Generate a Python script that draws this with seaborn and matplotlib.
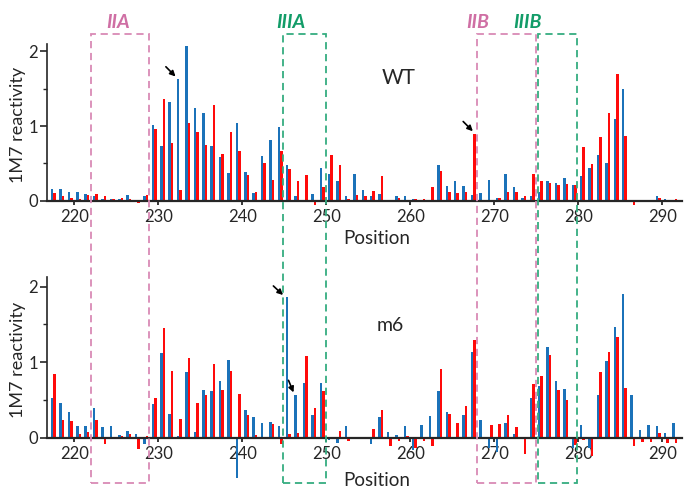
import numpy as np
import pandas as pd
import matplotlib
matplotlib.use("Agg")
import matplotlib.pyplot as plt
import seaborn as sns
from matplotlib.patches import Rectangle
from matplotlib.transforms import blended_transform_factory

# nucleotide positions shown on the x axis
positions = list(range(217, 292))

# 1M7 reactivity, blue and red replicate for each construct
wt_blue = [0.16, 0.16, 0.12, 0.12, 0.09, 0.07, 0.03, 0.02, 0.02, 0.08,
           -0.01, 0.06, 1.01, 0.73, 1.32, 1.63, 2.07, 1.24, 1.18, 0.73,
           0.59, 0.37, 1.04, 0.39, 0.10, 0.60, 0.81, 0.99, 0.48, 0.06,
           0.00, 0.09, 0.44, 0.36, 0.27, 0.07, 0.36, 0.14, 0.06, 0.09,
           -0.02, 0.06, 0.07, 0.02, 0.01, 0.01, 0.48, 0.20, 0.27, 0.20,
           0.08, 0.10, 0.28, 0.04, 0.36, 0.19, 0.04, 0.06, 0.12, 0.26,
           0.24, 0.31, 0.21, 0.33, 0.44, 0.62, 0.50, 1.09, 1.49, 0.01,
           -0.02, 0.00, 0.06, 0.03, 0.01]
wt_red = [0.10, 0.06, 0.04, 0.03, 0.08, 0.09, 0.07, 0.03, 0.04, 0.03,
          -0.03, 0.08, 0.96, 1.36, 0.78, 0.15, 1.04, 0.92, 0.75, 1.28,
          0.63, 0.92, 0.67, 0.34, 0.12, 0.51, 0.28, 0.67, 0.43, 0.27,
          0.34, -0.05, 0.18, 0.61, 0.48, 0.02, 0.08, 0.06, 0.13, 0.33,
          0.01, 0.04, 0.00, 0.02, 0.03, 0.18, 0.40, 0.12, 0.10, 0.12,
          0.90, 0.00, 0.00, 0.04, 0.12, 0.12, 0.06, 0.36, 0.26, 0.24,
          0.21, 0.22, 0.21, 0.72, 0.49, 0.86, 1.18, 1.69, 0.87, -0.06,
          0.00, -0.01, 0.04, -0.02, 0.02]
m6_blue = [0.52, 0.46, 0.34, 0.15, 0.15, 0.39, 0.14, 0.15, 0.03, 0.09,
           0.05, -0.09, 0.45, 1.12, 0.32, 0.02, 0.87, 0.07, 0.63, 0.62,
           0.75, 1.03, -0.53, 0.37, 0.27, 0.19, 0.21, 0.15, 1.86, 0.57,
           0.72, 0.30, 0.72, -0.03, -0.07, 0.16, -0.01, 0.00, -0.08, 0.28,
           0.08, 0.04, 0.15, -0.16, 0.17, 0.29, 0.62, 0.34, 0.01, 0.30,
           1.13, 0.24, -0.13, -0.19, 0.20, 0.05, 0.00, 0.53, 0.68, 1.20,
           0.75, 0.64, -0.14, 0.17, -0.14, 0.56, 1.01, 1.46, 1.90, 0.57,
           0.10, 0.17, 0.15, 0.06, 0.19]
m6_red = [0.84, 0.24, 0.22, 0.05, 0.08, 0.24, -0.08, 0.01, 0.02, 0.05,
          -0.15, 0.02, 0.53, 1.45, 0.88, 0.25, 1.06, 0.46, 0.57, 0.98,
          0.63, 0.88, 0.58, 0.30, 0.04, 0.00, 0.18, -0.08, 0.05, 0.06,
          1.08, 0.40, 0.62, -0.02, 0.09, -0.04, -0.01, 0.00, 0.12, 0.37,
          -0.11, -0.05, 0.02, -0.14, -0.05, -0.11, 0.91, 0.31, 0.20, 0.42,
          1.29, 0.01, 0.17, 0.18, 0.30, 0.14, -0.21, 0.71, 0.82, 1.10,
          0.63, 0.50, -0.10, -0.03, -0.24, 0.87, 1.14, 1.33, 0.66, -0.11,
          -0.06, -0.06, 0.06, -0.07, -0.07]

x_ticks = [220, 230, 240, 250, 260, 270, 280, 290]

# boxed structural elements (start, end in position units)
regions = ["IIA", "IIIA", "IIB", "IIIB"]
region_start = [221.95, 244.9, 267.9, 275.2]
region_end = [228.9, 250.0, 275.0, 279.9]
region_kind = ["II", "III", "II", "III"]

BLUE = "#1b72b9"
RED = "#ff0a0a"
BOX_COL = {"II": "#d98ab5", "III": "#35ad80"}
TXT_COL = {"II": "#cf6fa4", "III": "#129c68"}

sns.set_style("ticks")
plt.rcParams["font.family"] = ["Lato", "DejaVu Sans"]

def make_frame(blue, red):
    return pd.DataFrame({
        "x": np.concatenate([positions, positions]) + 0.5,
        "val": np.concatenate([blue, red]),
        "rep": ["blue"] * len(blue) + ["red"] * len(red),
    })

fig = plt.figure(figsize=(6.84, 4.90), dpi=100)
ax_wt = fig.add_axes([0.0694, 0.5745, 0.927, 0.3367])
ax_m6 = fig.add_axes([0.0694, 0.0220, 0.927, 0.4129])

panels = [
    (ax_wt, make_frame(wt_blue, wt_red), "WT", (258.6, 1.64), (-0.1, 2.1), 0.506),
    (ax_m6, make_frame(m6_blue, m6_red), "m6", (257.6, 1.49), (-0.55, 2.13), 0.589),
]

for ax, df, name, name_xy, ylim, ylab_y in panels:
    ax.set_facecolor("none")
    sns.barplot(data=df, x="x", y="val", hue="rep", native_scale=True,
                palette={"blue": BLUE, "red": RED}, width=0.6, gap=0,
                saturation=1, errorbar=None, linewidth=0, legend=False, ax=ax)
    ax.set_xlim(216.8, 292.3)
    ax.set_ylim(*ylim)
    ax.spines[["top", "right"]].set_visible(False)
    ax.spines["bottom"].set_position(("data", 0))
    ax.spines["bottom"].set_linewidth(1.6)
    ax.spines["left"].set_linewidth(1.2)
    ax.spines["left"].set_bounds(0, ylim[1])
    ax.set_xticks(x_ticks)
    ax.set_xticklabels([str(t) for t in x_ticks])
    ax.set_yticks([0, 1, 2])
    ax.set_yticks([0.5, 1.5], minor=True)
    ax.tick_params(axis="x", direction="out", length=3, width=1.3, labelsize=12, pad=3)
    ax.tick_params(axis="y", which="major", direction="out", length=5, width=1.2,
                   labelsize=12, pad=2)
    ax.tick_params(axis="y", which="minor", direction="out", length=3, width=1.0)
    ax.set_xlabel("Position", fontsize=13.5)
    ax.xaxis.set_label_coords(0.52, -0.179 if name == "WT" else -0.004)
    ax.xaxis.label.set_va("center")
    ax.set_ylabel("1M7 reactivity", fontsize=13)
    ax.yaxis.set_label_coords(-0.047, ylab_y)
    ax.yaxis.label.set_va("center")
    ax.text(name_xy[0], name_xy[1], name, fontsize=15 if name == "WT" else 14,
            ha="center", va="center")
    ax.grid(False)

# arrows marking notable nucleotides
arrows = [
    (ax_wt, (230.9, 1.79), (232.05, 1.66)),
    (ax_wt, (266.3, 1.06), (267.45, 0.93)),
    (ax_m6, (243.7, 2.01), (244.85, 1.89)),
    (ax_m6, (245.5, 0.76), (246.1, 0.60)),
]
for ax, tail, tip in arrows:
    ax.annotate("", xy=tip, xytext=tail,
                arrowprops=dict(arrowstyle="-|>", color="black", lw=1.2,
                                mutation_scale=8, shrinkA=0, shrinkB=0))

# dashed boxes spanning both panels
trans = blended_transform_factory(ax_wt.transData, fig.transFigure)
box_top = 1 - 34 / 490
box_bot = 1 - 483 / 490
label_x = [118, 291, 478, 528]
for name, x0, x1, kind, lx in zip(regions, region_start, region_end, region_kind, label_x):
    rect = Rectangle((x0, box_bot), x1 - x0, box_top - box_bot, transform=trans,
                     fill=False, edgecolor=BOX_COL[kind], linewidth=1.3,
                     linestyle=(0, (4, 2.6)), clip_on=False, zorder=5)
    fig.add_artist(rect)
    fig.text(lx / 684, 1 - 22 / 490, name, color=TXT_COL[kind], fontsize=14,
             fontweight="bold", fontstyle="italic", ha="center", va="center")

fig.savefig("out.png", dpi=100)
